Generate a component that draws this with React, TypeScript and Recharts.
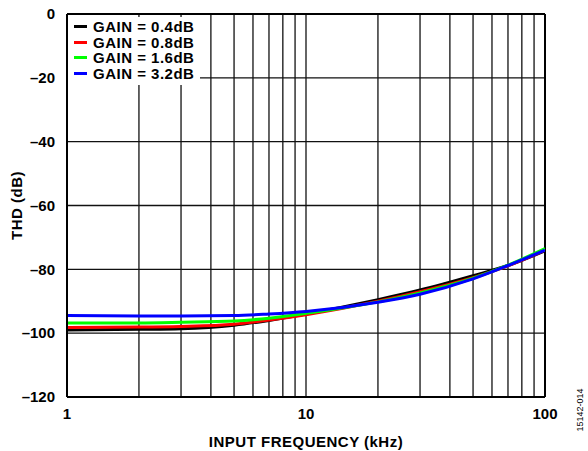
import React from 'react';
import { LineChart, Line, XAxis, YAxis, CartesianGrid, ReferenceLine } from 'recharts';

// input frequency in kHz
const freqKHz = [1, 2, 3, 5, 7, 10, 20, 30, 50, 70, 100];

// THD in dB
const gain04 = [-99.0, -98.8, -98.6, -97.5, -96.0, -94.0, -89.5, -86.5, -82.0, -78.8, -74.2];
const gain08 = [-98.2, -98.1, -97.9, -97.2, -95.9, -94.2, -90.0, -87.0, -82.6, -78.9, -74.0];
const gain16 = [-96.8, -96.8, -96.6, -96.2, -95.3, -93.8, -90.2, -87.4, -82.8, -78.7, -73.5];
const gain32 = [-94.5, -94.6, -94.6, -94.5, -94.0, -93.2, -90.3, -87.8, -83.0, -78.8, -74.0];

const xTicks = [1, 2, 3, 4, 5, 6, 7, 8, 9, 10, 20, 30, 40, 50, 60, 70, 80, 90, 100];
const xLabels = [1, 10, 100];
const yTicks = [0, -20, -40, -60, -80, -100, -120];

const series = [
  { key: 'g04', name: 'GAIN = 0.4dB', color: '#000000' },
  { key: 'g08', name: 'GAIN = 0.8dB', color: '#ff0000' },
  { key: 'g16', name: 'GAIN = 1.6dB', color: '#00ff00' },
  { key: 'g32', name: 'GAIN = 3.2dB', color: '#0000ff' },
];

const data = freqKHz.map((f, i) => ({
  f,
  g04: gain04[i],
  g08: gain08[i],
  g16: gain16[i],
  g32: gain32[i],
}));

const font = 'Arial, "Liberation Sans", sans-serif';
const tickStyle = { fontSize: 15, fontWeight: 700, fill: '#000', fontFamily: font };
const titleStyle = { ...tickStyle, letterSpacing: 0.5 };

const fmtY = (v: number) => (v < 0 ? '\u2013' + Math.abs(v) : String(v));

const GainLegend = () => (
  <div
    style={{
      position: 'absolute',
      left: 68,
      top: 17,
      background: '#fff',
      width: 126,
      padding: '2px 0 4px 6px',
      fontFamily: font,
      fontWeight: 700,
      fontSize: 15,
      letterSpacing: 0.5,
      lineHeight: '15.6px',
    }}
  >
    {series.map((s) => (
      <div key={s.key} style={{ display: 'flex', alignItems: 'center', whiteSpace: 'nowrap' }}>
        <span style={{ display: 'inline-block', width: 13, height: 3, background: s.color, marginRight: 6 }} />
        <span>{s.name}</span>
      </div>
    ))}
  </div>
);

export default function App() {
  return (
    <div style={{ position: 'absolute', left: 0, top: 0, width: 588, height: 451, background: '#fff' }}>
      <LineChart width={588} height={451} data={data} margin={{ top: 14, right: 43, bottom: 0, left: 0 }}>
        <CartesianGrid stroke="#111" strokeWidth={1.3} />
        <XAxis
          dataKey="f"
          type="number"
          scale="log"
          domain={[1, 100]}
          ticks={xTicks}
          interval={0}
          tickFormatter={(v: number) => (xLabels.includes(v) ? String(v) : '')}
          tickLine={false}
          tickMargin={5}
          axisLine={{ stroke: '#000', strokeWidth: 2 }}
          tick={tickStyle}
          allowDataOverflow
          height={54}
          label={{ value: 'INPUT FREQUENCY (kHz)', position: 'insideBottom', offset: 4, style: titleStyle }}
        />
        <YAxis
          width={67}
          type="number"
          domain={[-120, 0]}
          ticks={yTicks}
          interval={0}
          tickFormatter={fmtY}
          tickLine={false}
          tickMargin={6}
          axisLine={{ stroke: '#000', strokeWidth: 2 }}
          tick={tickStyle}
          label={{ value: 'THD (dB)', angle: -90, position: 'insideLeft', offset: 17, style: { ...titleStyle, textAnchor: 'middle' } }}
        />
        <ReferenceLine y={0} stroke="#000" strokeWidth={2} />
        <ReferenceLine x={100} stroke="#000" strokeWidth={2} />
        {series.map((s) => (
          <Line
            key={s.key}
            dataKey={s.key}
            name={s.name}
            stroke={s.color}
            strokeWidth={3}
            type="monotone"
            dot={false}
            isAnimationActive={false}
          />
        ))}
      </LineChart>
      <GainLegend />
      <div
        style={{
          position: 'absolute',
          left: 580,
          top: 410,
          transform: 'translate(-50%, -50%) rotate(-90deg)',
          fontFamily: font,
          fontSize: 9,
          color: '#000',
          whiteSpace: 'nowrap',
        }}
      >
        15142-014
      </div>
    </div>
  );
}
